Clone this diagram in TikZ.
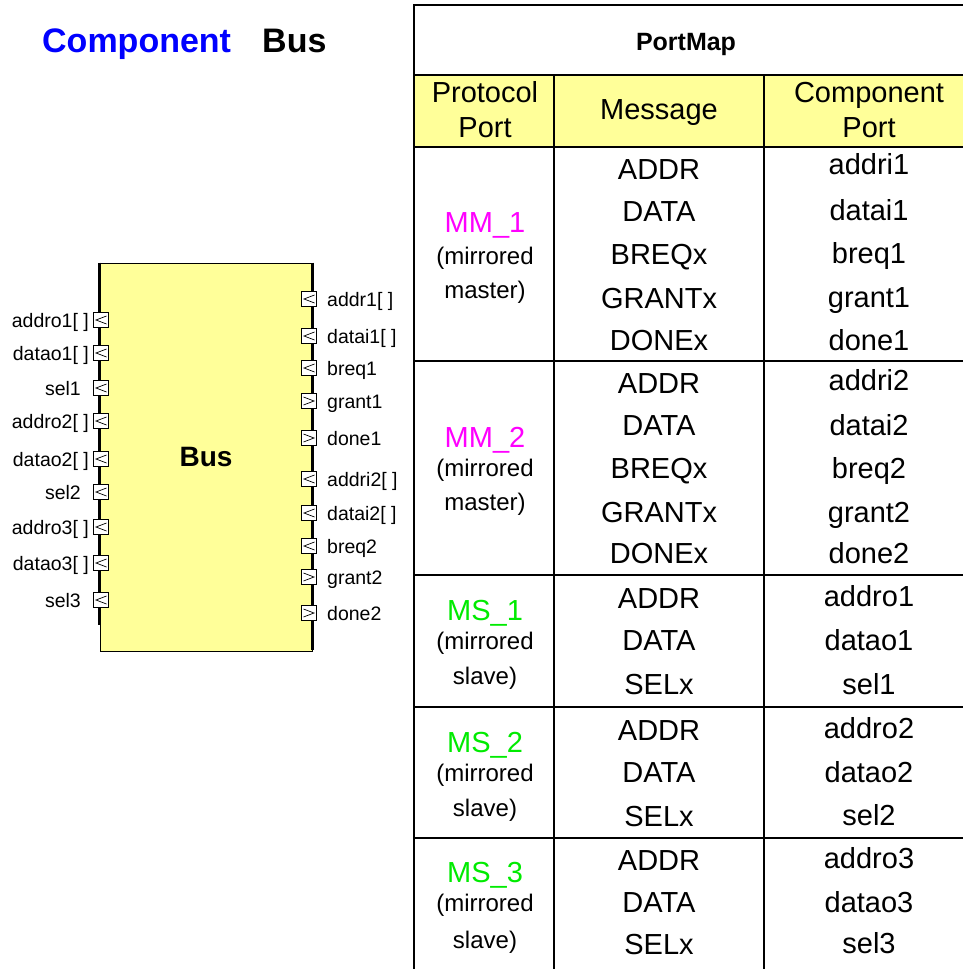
\documentclass[tikz,border=0pt]{standalone}
\usepackage{fontspec}
\setmainfont{Liberation Sans}
\definecolor{busyel}{RGB}{255,255,153}
\definecolor{hdyel}{RGB}{255,255,153}
\definecolor{compblue}{RGB}{0,0,255}
\definecolor{mmpink}{RGB}{255,0,255}
\definecolor{msgreen}{RGB}{0,235,0}
\begin{document}
\begin{tikzpicture}[x=1pt,y=-1pt,
 txt/.style={inner sep=0pt, anchor=base},
 cell/.style={txt, font=\fontsize{29}{34}\selectfont, yshift=-10.4pt},
 sub/.style={txt, font=\fontsize{24}{28}\selectfont, yshift=-8.6pt},
 plbl/.style={txt, font=\fontsize{19.5}{23}\selectfont, yshift=-7pt},
 pbox/.style={draw, fill=white, line width=0.8pt, minimum size=15pt, inner sep=0pt},
 pin/.style={pbox, path picture={\draw[line width=0.7pt] ([xshift=-2pt,yshift=-3.5pt]path picture bounding box.north east) -- ([xshift=2.5pt]path picture bounding box.west) -- ([xshift=-2pt,yshift=3.5pt]path picture bounding box.south east);}},
 pout/.style={pbox, path picture={\draw[line width=0.7pt] ([xshift=2pt,yshift=-3.5pt]path picture bounding box.north west) -- ([xshift=-2.5pt]path picture bounding box.east) -- ([xshift=2pt,yshift=3.5pt]path picture bounding box.south west);}},
 tline/.style={line width=1.6pt},
 thickedge/.style={line width=2.2pt},
]
\useasboundingbox (0,0) rectangle (963,969);
\fill[white] (0,0) rectangle (963,969);

% title
\node[txt, anchor=base west, font=\bfseries\fontsize{34}{40}\selectfont, text=compblue, yshift=-12.2pt] (t1) at (42,40) {Component};
\node[txt, anchor=base west, font=\bfseries\fontsize{34}{40}\selectfont, yshift=-12.2pt] (t2) at (262,40) {Bus};

% component box
\node[draw, fill=busyel, line width=0.9pt, minimum width=212pt, minimum height=388pt, inner sep=0pt, font=\bfseries\fontsize{28}{32}\selectfont] (bus) at (206,457) {Bus};
\draw[thickedge] (bus.north west) -- (bus.north west |- 0,625);
\draw[thickedge] (bus.north east) -- (bus.north east |- 0,650);

% left ports
\foreach \yy/\lab/\xx [count=\i] in {320/{addro1[ ]}/89, 353/{datao1[ ]}/89, 388/{sel1}/81, 421/{addro2[ ]}/89, 459/{datao2[ ]}/89, 492/{sel2}/81, 527/{addro3[ ]}/89, 563/{datao3[ ]}/89, 600/{sel3}/81} {
  \node[pin] (pl\i) at (101,\yy) {};
  \node[plbl, anchor=base east] (tl\i) at (\xx,\yy) {\lab};
}

% right ports
\node[pin] (pr1) at (309,299) {};  \node[plbl, anchor=base west] (tr1) at (327,299) {addr1[ ]};
\node[pin] (pr2) at (309,336) {};  \node[plbl, anchor=base west] (tr2) at (327,336) {datai1[ ]};
\node[pin] (pr3) at (309,368) {};  \node[plbl, anchor=base west] (tr3) at (327,368) {breq1};
\node[pout] (pr4) at (309,401) {}; \node[plbl, anchor=base west] (tr4) at (327,401) {grant1};
\node[pout] (pr5) at (309,438) {}; \node[plbl, anchor=base west] (tr5) at (327,438) {done1};
\node[pin] (pr6) at (309,479) {};  \node[plbl, anchor=base west] (tr6) at (327,479) {addri2[ ]};
\node[pin] (pr7) at (309,513) {};  \node[plbl, anchor=base west] (tr7) at (327,513) {datai2[ ]};
\node[pin] (pr8) at (309,546) {};  \node[plbl, anchor=base west] (tr8) at (327,546) {breq2};
\node[pout] (pr9) at (309,577) {}; \node[plbl, anchor=base west] (tr9) at (327,577) {grant2};
\node[pout] (pr10) at (309,613) {};\node[plbl, anchor=base west] (tr10) at (327,613) {done2};

% table
\fill[hdyel] (414,75) rectangle (963,147);
\draw[tline] (963,5) -- (414,5) -- (414,969);
\foreach \yy in {75,147,361,575,707,838} \draw[tline] (414,\yy) -- (963,\yy);
\draw[tline] (554,75) -- (554,969);
\draw[tline] (764,75) -- (764,969);

\node[txt, font=\bfseries\fontsize{25}{30}\selectfont, yshift=-9pt] (pm) at (686,41) {PortMap};
\node[cell] (h1a) at (485,92) {Protocol};
\node[cell] (h1b) at (485,127) {Port};
\node[cell] (h2) at (659,109) {Message};
\node[cell] (h3a) at (869,92) {Component};
\node[cell] (h3b) at (869,127) {Port};

% protocol port column
\node[cell, text=mmpink] (pp1) at (485,222) {MM\_1};
\node[sub] (pp1a) at (485,256) {(mirrored};
\node[sub] (pp1b) at (485,290) {master)};
\node[cell, text=mmpink] (pp2) at (485,437) {MM\_2};
\node[sub] (pp2a) at (485,468) {(mirrored};
\node[sub] (pp2b) at (485,502) {master)};
\node[cell, text=msgreen] (pp3) at (485,610) {MS\_1};
\node[sub] (pp3a) at (485,641) {(mirrored};
\node[sub] (pp3b) at (485,676) {slave)};
\node[cell, text=msgreen] (pp4) at (485,742) {MS\_2};
\node[sub] (pp4a) at (485,773) {(mirrored};
\node[sub] (pp4b) at (485,808) {slave)};
\node[cell, text=msgreen] (pp5) at (485,872) {MS\_3};
\node[sub] (pp5a) at (485,903) {(mirrored};
\node[sub] (pp5b) at (485,940) {slave)};

% message column
\foreach \yy/\lab [count=\i] in {169/ADDR,211/DATA,254/BREQx,298/GRANTx,340/DONEx,
  383/ADDR,425/DATA,468/BREQx,512/GRANTx,553/DONEx,
  598/ADDR,640/DATA,684/SELx, 730/ADDR,772/DATA,816/SELx, 860/ADDR,902/DATA,944/SELx}
  \node[cell] (m\i) at (659,\yy) {\lab};

% component port column
\foreach \yy/\lab [count=\i] in {164/addri1,210/datai1,253/breq1,297/grant1,340/done1,
  380/addri2,425/datai2,468/breq2,512/grant2,553/done2,
  596/addro1,640/datao1,684/sel1, 728/addro2,772/datao2,815/sel2, 858/addro3,902/datao3,943/sel3}
  \node[cell] (c\i) at (869,\yy) {\lab};
\end{tikzpicture}
\end{document}
